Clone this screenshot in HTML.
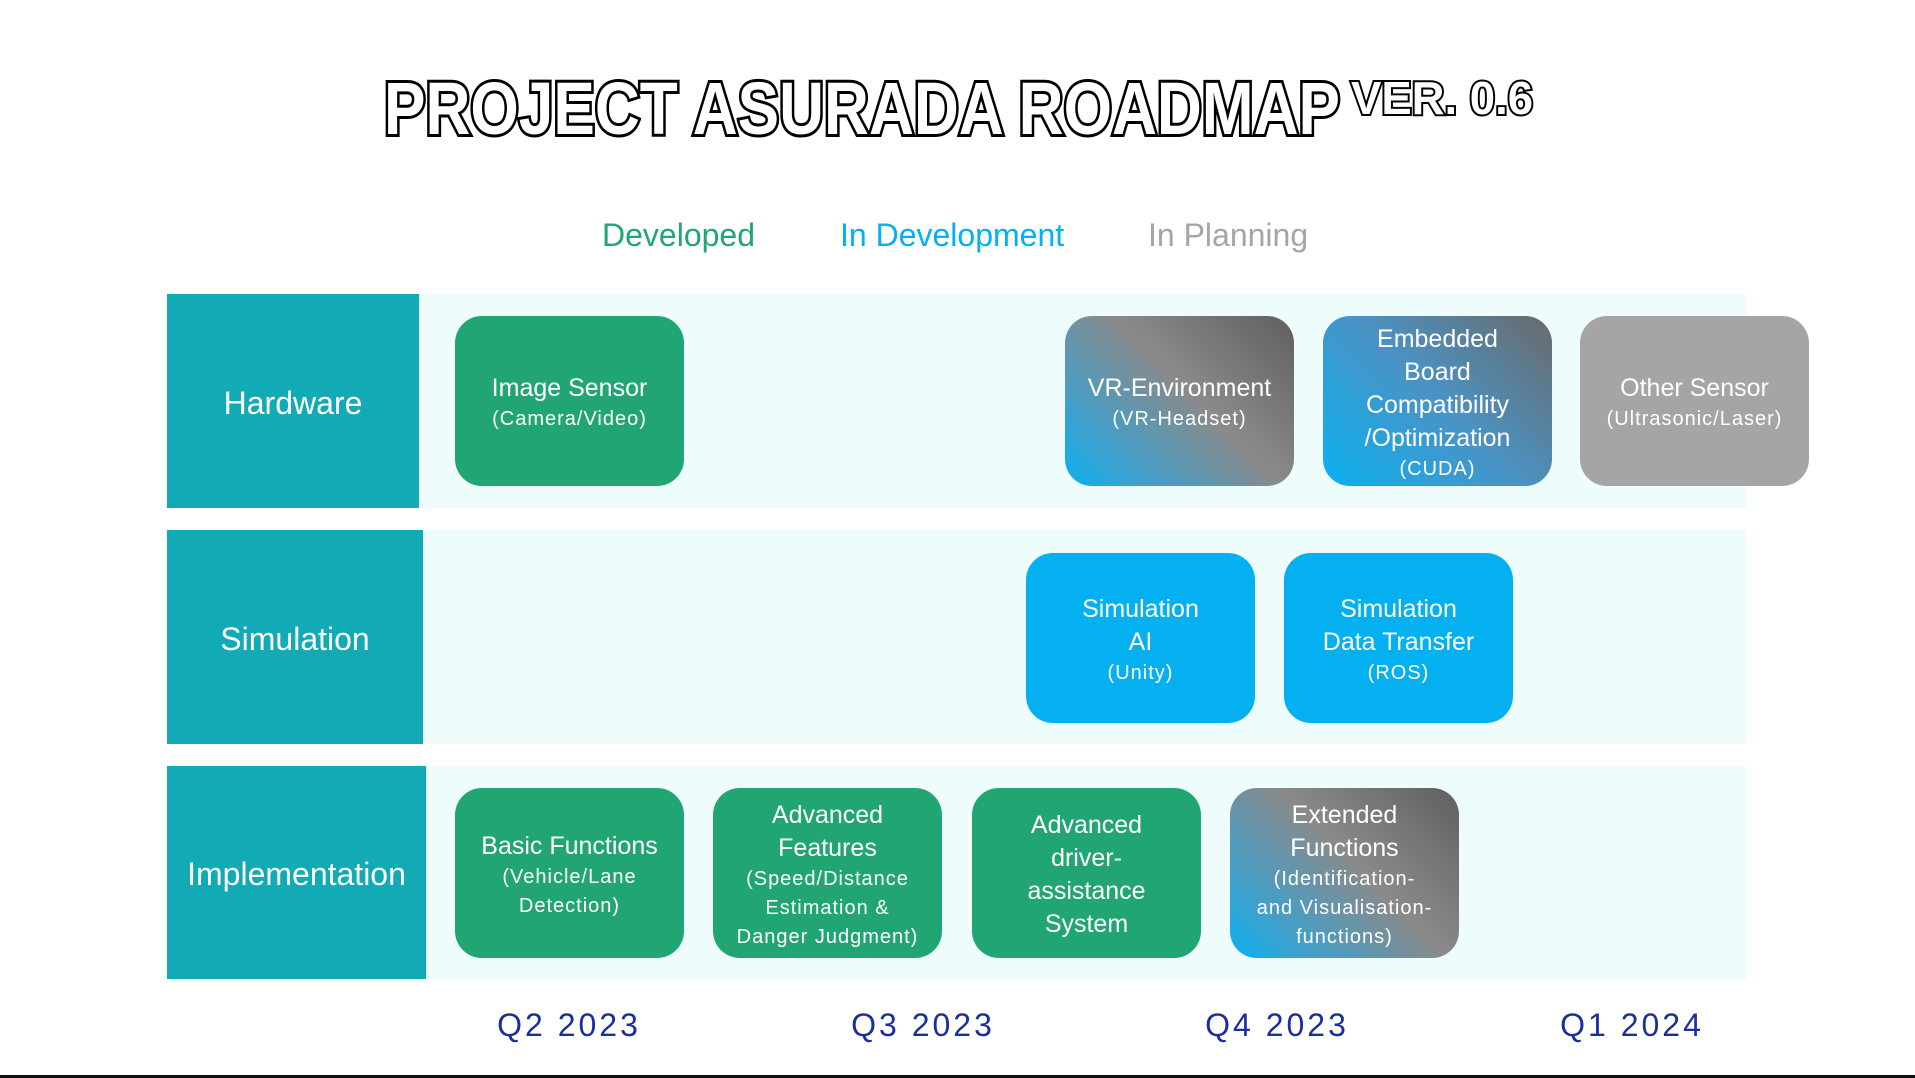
<!DOCTYPE html>
<html><head><meta charset="utf-8">
<style>
body{margin:0;width:1915px;height:1078px;background:#fff;position:relative;overflow:hidden;font-family:"Liberation Sans Narrow","Liberation Sans",sans-serif;}
.abs{position:absolute;}
.rowbg{position:absolute;left:167px;width:1579px;background:#eefcfc;}
.lab{position:absolute;left:167px;background:#11aab5;color:#fff;font-size:32px;display:flex;align-items:center;justify-content:center;padding-top:4px;box-sizing:border-box;}
.card{position:absolute;width:229px;height:170px;border-radius:27px;color:#fff;display:flex;flex-direction:column;align-items:center;justify-content:center;text-align:center;font-size:25px;line-height:33px;padding-top:4px;box-sizing:border-box;}
.card .s{font-size:20px;line-height:29px;letter-spacing:1px;}
.g{background:#21a673}.b{background:#05b0f0}.p{background:#a5a5a5}
.gr{background:linear-gradient(225deg,#5f5f5f 0%,#8a8a8a 45%,#3fa0cc 80%,#0ab0ef 100%)}
.gb{background:linear-gradient(225deg,#6a6a6a 0%,#4a93c6 50%,#0ab0ef 100%)}
.leg{position:absolute;top:217px;font-size:32px;font-family:"Liberation Sans",sans-serif;}
.q{position:absolute;top:1007px;font-size:32px;color:#1a2ea0;letter-spacing:3px;font-family:"Liberation Sans",sans-serif;width:200px;text-align:center;}
</style></head><body>
<svg class="abs" style="left:0;top:0" width="1915" height="160">
<text x="384" y="134" textLength="956" lengthAdjust="spacingAndGlyphs" font-family="Liberation Sans" font-weight="bold" font-size="74" fill="#fff" stroke="#000" stroke-width="6" paint-order="stroke">PROJECT ASURADA ROADMAP</text>
<text x="1351" y="114" textLength="182" lengthAdjust="spacingAndGlyphs" font-family="Liberation Sans" font-weight="bold" font-size="46" fill="#fff" stroke="#000" stroke-width="4" paint-order="stroke">VER. 0.6</text>
</svg>
<div class="leg" style="left:602px;color:#21a673">Developed</div>
<div class="leg" style="left:840px;color:#05b0f0">In Development</div>
<div class="leg" style="left:1148px;color:#a5a5a5">In Planning</div>

<div class="rowbg" style="top:294px;height:214px"></div>
<div class="rowbg" style="top:530px;height:214px"></div>
<div class="rowbg" style="top:766px;height:213px"></div>
<div class="lab" style="top:294px;height:214px;width:252px">Hardware</div>
<div class="lab" style="top:530px;height:214px;width:256px">Simulation</div>
<div class="lab" style="top:766px;height:213px;width:259px">Implementation</div>

<div class="card g" style="left:455px;top:316px">Image Sensor<span class="s">(Camera/Video)</span></div>
<div class="card gr" style="left:1065px;top:316px">VR-Environment<span class="s">(VR-Headset)</span></div>
<div class="card gb" style="left:1323px;top:316px">Embedded<br>Board<br>Compatibility<br>/Optimization<span class="s">(CUDA)</span></div>
<div class="card p" style="left:1580px;top:316px">Other Sensor<span class="s">(Ultrasonic/Laser)</span></div>

<div class="card b" style="left:1026px;top:553px">Simulation<br>AI<span class="s">(Unity)</span></div>
<div class="card b" style="left:1284px;top:553px">Simulation<br>Data Transfer<span class="s">(ROS)</span></div>

<div class="card g" style="left:455px;top:788px">Basic Functions<span class="s">(Vehicle/Lane<br>Detection)</span></div>
<div class="card g" style="left:713px;top:788px">Advanced<br>Features<span class="s">(Speed/Distance<br>Estimation &amp;<br>Danger Judgment)</span></div>
<div class="card g" style="left:972px;top:788px">Advanced<br>driver-<br>assistance<br>System</div>
<div class="card gr" style="left:1230px;top:788px">Extended<br>Functions<span class="s">(Identification-<br>and Visualisation-<br>functions)</span></div>

<div class="q" style="left:469px">Q2 2023</div>
<div class="q" style="left:823px">Q3 2023</div>
<div class="q" style="left:1177px">Q4 2023</div>
<div class="q" style="left:1532px">Q1 2024</div>
<div class="abs" style="left:0;top:1075px;width:1915px;height:3px;background:#111"></div>
</body></html>
